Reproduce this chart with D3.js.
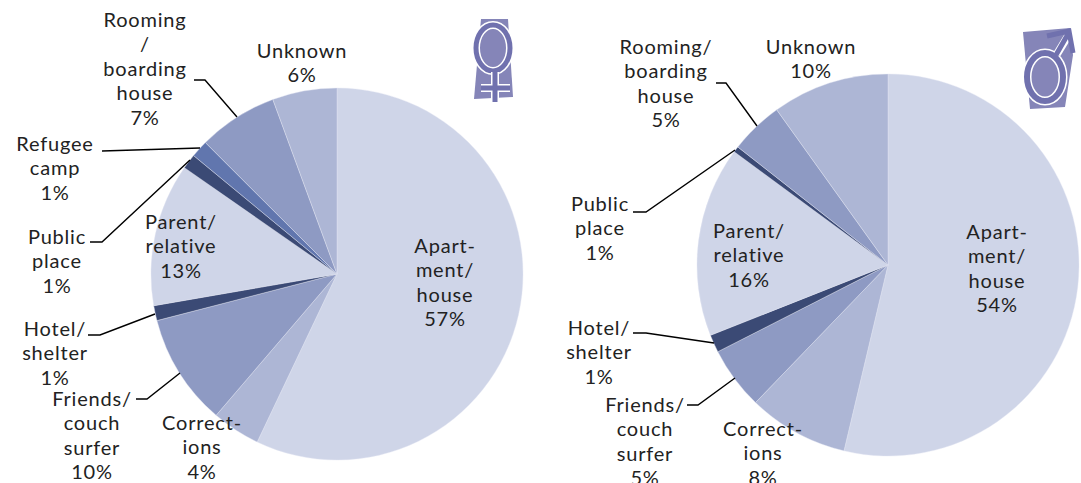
<!DOCTYPE html>
<html>
<head>
<meta charset="utf-8">
<script src="https://cdnjs.cloudflare.com/ajax/libs/d3/7.8.5/d3.min.js"></script>
<style>
  html, body { margin: 0; padding: 0; background: #fff; }
  svg { display: block; }
  text { font-family: "Lato", sans-serif; font-size: 20px; fill: #222; text-anchor: middle; letter-spacing: 0.8px; }
</style>
</head>
<body>
<svg id="chart" width="1081" height="483"></svg>
<script>
const categories = ['Apartment/house', 'Corrections', 'Friends/couch surfer', 'Hotel/shelter', 'Parent/relative', 'Public place', 'Refugee camp', 'Rooming/boarding house', 'Unknown']
const femaleValues = [57, 4.2, 9.7, 1.3, 12.4, 1.3, 1.5, 6.9, 5.6]
const maleValues = [53.7, 8.5, 5.3, 1.5, 16.1, 0.5, 0, 4.5, 9.9]
const femaleLabels = ['57%', '4%', '10%', '1%', '13%', '1%', '1%', '7%', '6%']
const maleLabels = ['54%', '8%', '5%', '1%', '16%', '1%', '', '5%', '10%']

const sliceColors = ['#cfd5e8', '#adb6d5', '#8e9ac3', '#3b4a75', '#cfd5e8', '#3b4a75', '#6176ae', '#8e9ac3', '#adb6d5']
const color = d3.scaleOrdinal().domain(categories).range(sliceColors)

const svg = d3.select('#chart')

const defs = svg.append('defs')
defs.append('filter').attr('id', 'soft').append('feGaussianBlur').attr('stdDeviation', 0.6)

// text lines and centre of each label, y is the middle of the first line
const femaleLayout = [
  { lines: ['Apart-', 'ment/', 'house'], x: 445, y: 246 },
  { lines: ['Correct-', 'ions'], x: 202, y: 423 },
  { lines: ['Friends/', 'couch', 'surfer'], x: 92, y: 399 },
  { lines: ['Hotel/', 'shelter'], x: 55, y: 329 },
  { lines: ['Parent/', 'relative'], x: 181, y: 222 },
  { lines: ['Public', 'place'], x: 57, y: 237 },
  { lines: ['Refugee', 'camp'], x: 55, y: 144 },
  { lines: ['Rooming', '/', 'boarding', 'house'], x: 145, y: 20 },
  { lines: ['Unknown'], x: 302, y: 51 }
]
const maleLayout = [
  { lines: ['Apart-', 'ment/', 'house'], x: 997, y: 232 },
  { lines: ['Correct-', 'ions'], x: 763, y: 429 },
  { lines: ['Friends/', 'couch', 'surfer'], x: 645, y: 405 },
  { lines: ['Hotel/', 'shelter'], x: 599, y: 328 },
  { lines: ['Parent/', 'relative'], x: 749, y: 231 },
  { lines: ['Public', 'place'], x: 600, y: 204 },
  null,
  { lines: ['Rooming/', 'boarding', 'house'], x: 666, y: 47 },
  { lines: ['Unknown'], x: 811, y: 47 }
]

const femaleLeaders = [
  [[194, 80], [205, 80], [237, 117]],
  [[102, 151], [200, 148]],
  [[90, 242], [102, 242], [190, 160]],
  [[88, 335], [100, 335], [155, 314]],
  [[136, 399], [147, 399], [180, 373]]
]
const maleLeaders = [
  [[716, 83], [726, 83], [757, 126]],
  [[633, 212], [646, 212], [735, 150]],
  [[633, 333], [646, 333], [714, 343]],
  [[687, 405], [698, 405], [735, 378]]
]

const pie = d3.pie().sort(null)
const lineGen = d3.line()

function drawPie({ values, percents, layout, leaders, cx, cy, radius }) {
  const arc = d3.arc().innerRadius(0).outerRadius(radius)
  const g = svg.append('g')

  g.append('g')
    .attr('transform', `translate(${cx}, ${cy})`)
    .selectAll('path')
    .data(pie(values))
    .join('path')
    .attr('d', arc)
    .attr('fill', (d, i) => color(categories[i]))
    .attr('stroke', '#e4e7f2')
    .attr('stroke-width', (d) => (d.value > 0 ? 0.4 : 0))

  g.selectAll('.leader')
    .data(leaders)
    .join('path')
    .attr('class', 'leader')
    .attr('d', lineGen)
    .attr('fill', 'none')
    .attr('stroke', '#000')
    .attr('stroke-width', 1.4)

  layout.forEach((item, i) => {
    if (!item) return
    const rows = item.lines.concat(percents[i])
    const t = g.append('text').attr('x', item.x).attr('y', item.y + 7)
    rows.forEach((row, j) => {
      t.append('tspan').attr('x', item.x).attr('dy', j === 0 ? 0 : 24.4).text(row)
    })
  })
}

drawPie({ values: femaleValues, percents: femaleLabels, layout: femaleLayout, leaders: femaleLeaders, cx: 337, cy: 274, radius: 186 })
drawPie({ values: maleValues, percents: maleLabels, layout: maleLayout, leaders: maleLeaders, cx: 888, cy: 265, radius: 191 })

// gender symbols in the corners
const ringColor = '#7071ae'
const female = svg.append('g').attr('filter', 'url(#soft)')
female.append('path').attr('d', 'M481,19 L508,19 L513,97 L474,99 Z').attr('fill', '#8585b8')
female.append('ellipse').attr('cx', 493).attr('cy', 48).attr('rx', 17).attr('ry', 23).attr('fill', 'none').attr('stroke', '#fff').attr('stroke-width', 8)
female.append('ellipse').attr('cx', 493).attr('cy', 48).attr('rx', 17).attr('ry', 23).attr('fill', 'none').attr('stroke', ringColor).attr('stroke-width', 5)
female.append('path').attr('d', 'M495,72 V102 M481,88 H510').attr('fill', 'none').attr('stroke', '#fff').attr('stroke-width', 8)
female.append('path').attr('d', 'M495,71 V102 M481,88 H510').attr('fill', 'none').attr('stroke', ringColor).attr('stroke-width', 5)

const male = svg.append('g').attr('filter', 'url(#soft)')
male.append('path').attr('d', 'M1023,32 L1070,28 L1073,55 L1065,107 L1030,109 Z').attr('fill', '#8585b8')
male.append('ellipse').attr('cx', 1045).attr('cy', 77).attr('rx', 18).attr('ry', 24).attr('fill', 'none').attr('stroke', '#fff').attr('stroke-width', 9)
male.append('ellipse').attr('cx', 1045).attr('cy', 77).attr('rx', 18).attr('ry', 24).attr('fill', 'none').attr('stroke', ringColor).attr('stroke-width', 6)
male.append('path').attr('d', 'M1057,54 L1068,36').attr('fill', 'none').attr('stroke', '#fff').attr('stroke-width', 8)
male.append('path').attr('d', 'M1056,55 L1068,34 M1047,36 L1069,31 L1073,53').attr('fill', 'none').attr('stroke', ringColor).attr('stroke-width', 5)
</script>
</body>
</html>
